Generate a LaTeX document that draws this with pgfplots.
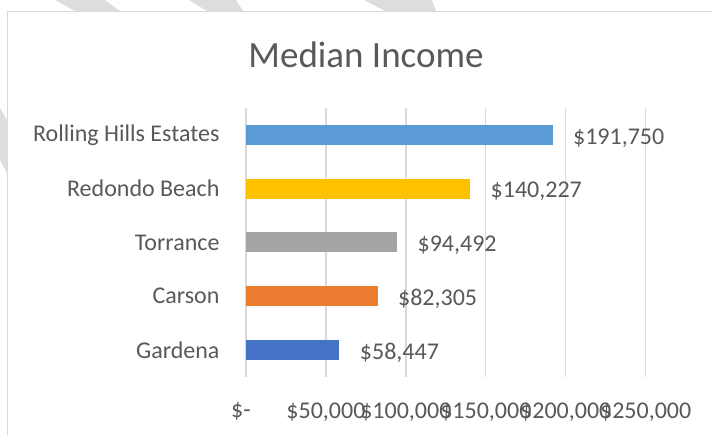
\documentclass[border=0pt]{standalone}
\usepackage{pgfplots}
\pgfplotsset{compat=1.18}
\usepackage{fontspec}
\setmainfont{Carlito}
\definecolor{txt}{HTML}{595959}
\definecolor{grd}{HTML}{D9D9D9}
\definecolor{stripe}{HTML}{DDDDDD}
\definecolor{cGar}{HTML}{4472C4}
\definecolor{cCar}{HTML}{ED7D31}
\definecolor{cTor}{HTML}{A5A5A5}
\definecolor{cRed}{HTML}{FFC000}
\definecolor{cRol}{HTML}{5B9BD5}
\begin{document}
\begin{tikzpicture}[x=1pt,y=1pt]
\useasboundingbox (0,0) rectangle (712,435);
\fill[white] (0,0) rectangle (712,435);
% decorative background stripes
\fill[stripe] (55,435) -- (105,435) -- (120,424) -- (75,424) -- cycle;
\fill[stripe] (189,435) -- (236,435) -- (243,424) -- (207,424) -- cycle;
\fill[stripe] (364,435) -- (432,435) -- (436,424) -- (385,424) -- cycle;
\fill[stripe] (0,327) -- (7,315) -- (7,262) -- (0,275) -- cycle;
% chart frame
\draw[grd, line width=1.3pt] (7.5,0) -- (7.5,423.5) -- (712,423.5);
\node[txt, font=\fontsize{37}{44}\selectfont] at (366,380) {Median Income};
\begin{axis}[
  at={(246pt,58pt)}, anchor=south west,
  scale only axis, width=399.7pt, height=269pt,
  xbar, bar width=20pt, bar shift=0pt,
  xmin=0, xmax=250000, ymin=-0.5, ymax=4.5,
  scaled x ticks=false,
  axis line style={draw=none},
  xmajorgrids, grid style={grd, line width=1.3pt},
  major tick length=0pt,
  xtick={0,50000,100000,150000,200000,250000},
  xticklabels={\$-\hspace*{10pt},{\$50,000},{\$100,000},{\$150,000},{\$200,000},{\$250,000}},
  ytick={0,1,2,3,4},
  yticklabels={Gardena,Carson,Torrance,Redondo Beach,Rolling Hills Estates},
  tick label style={txt, font=\fontsize{24}{28}\selectfont},
  yticklabel style={xshift=-23pt},
  xticklabel style={yshift=-22pt},
  nodes near coords={\$\pgfmathprintnumber{\pgfplotspointmeta}},
  nodes near coords style={txt, font=\fontsize{24}{28}\selectfont, anchor=west, xshift=17pt, yshift=-3pt,
    /pgf/number format/.cd, fixed, precision=0, 1000 sep={,}, assume math mode=true},
  clip=false,
]
\addplot[fill=cGar, draw=none] coordinates {(58447,0)};
\addplot[fill=cCar, draw=none] coordinates {(82305,1)};
\addplot[fill=cTor, draw=none] coordinates {(94492,2)};
\addplot[fill=cRed, draw=none] coordinates {(140227,3)};
\addplot[fill=cRol, draw=none] coordinates {(191750,4)};
\end{axis}
\end{tikzpicture}
\end{document}
